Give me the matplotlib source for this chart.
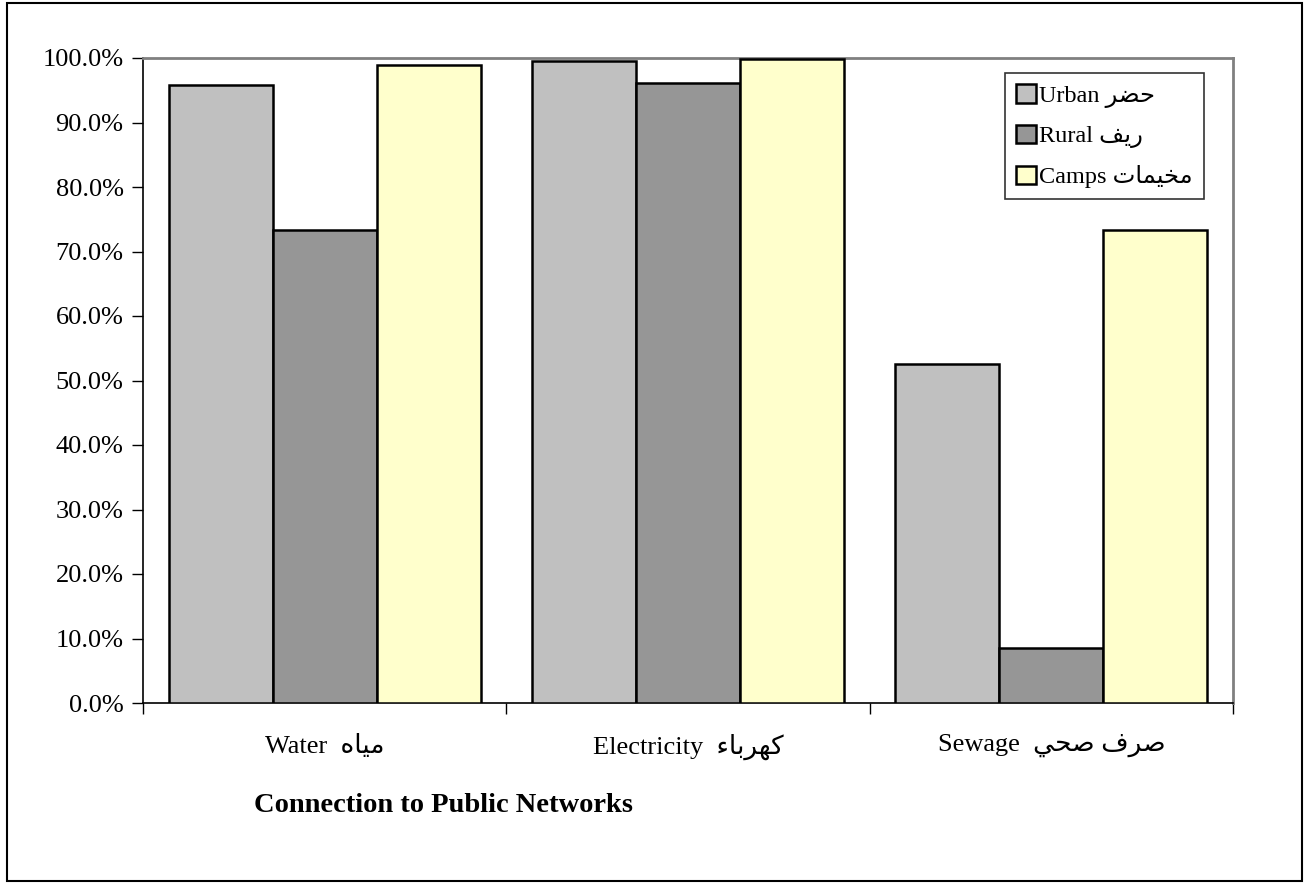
import matplotlib
matplotlib.use("Agg")
import matplotlib.pyplot as plt
from matplotlib.patches import Rectangle
import numpy as np

# Arabic words written in presentation forms, visual (left-to-right) order
AR_URBAN = "\uFEAE\uFEC0\uFEA3"                      # حضر
AR_RURAL = "\uFED2\uFEF3\uFEAD"                      # ريف
AR_CAMPS = "\uFE95\uFE8E\uFEE4\uFEF4\uFEA8\uFEE3"    # مخيمات
AR_WATER = "\uFEE9\uFE8E\uFEF4\uFEE3"                # مياه
AR_ELEC = "\uFE80\uFE8E\uFE91\uFEAE\uFEEC\uFEDB"     # كهرباء
AR_SEWAGE = "\uFEF2\uFEA4\uFEBB \uFED1\uFEAE\uFEBB"  # صرف صحي

categories = ["Water  " + AR_WATER, "Electricity  " + AR_ELEC, "Sewage  " + AR_SEWAGE]
series_names = ["Urban " + AR_URBAN, "Rural " + AR_RURAL, "Camps " + AR_CAMPS]
urban = [95.8, 99.5, 52.6]
rural = [73.3, 96.2, 8.5]
camps = [98.9, 99.8, 73.3]
yticks = [0, 10, 20, 30, 40, 50, 60, 70, 80, 90, 100]
title = "Connection to Public Networks"

colors = ["#C0C0C0", "#969696", "#FFFFCC"]
FAM = ["Liberation Serif", "DejaVu Sans"]
plt.rcParams["font.family"] = FAM

fig = plt.figure(figsize=(13.05, 8.84), dpi=100)
ax = fig.add_axes([143 / 1305, 1 - 703 / 884, (1233 - 143) / 1305, (703 - 58) / 884])

x = np.arange(len(categories))
w = 0.286
for i, (vals, c, name) in enumerate(zip([urban, rural, camps], colors, series_names)):
    ax.bar(x + (i - 1) * w, vals, width=w, color=c, edgecolor="black", linewidth=1.8,
           label=name, zorder=3)

ax.set_xlim(-0.5, len(categories) - 0.5)
ax.set_ylim(0, 100)
ax.set_yticks(yticks)
ax.set_yticklabels([f"{v:.1f}%" for v in yticks], fontsize=19)
ax.tick_params(axis="y", direction="out", length=8, width=1, pad=6)

ax.set_xticks(x)
ax.set_xticklabels(categories, fontsize=19)
ax.tick_params(axis="x", which="major", length=0, pad=22)
ax.set_xticks(np.arange(-0.5, len(categories), 1.0), minor=True)
ax.tick_params(axis="x", which="minor", direction="out", length=8, width=1)

for s in ["left", "bottom"]:
    ax.spines[s].set_color("black")
    ax.spines[s].set_linewidth(1.2)
for s in ["top", "right"]:
    ax.spines[s].set_color("#808080")
    ax.spines[s].set_linewidth(2)

leg = ax.legend(loc="upper right", bbox_to_anchor=((1204 - 143) / 1090, (703 - 73) / 645),
                fontsize=17.5, frameon=True, fancybox=False, edgecolor="black",
                handlelength=0.8, handleheight=0.8, handletextpad=0.15,
                borderaxespad=0, borderpad=0.45, labelspacing=0.7)
leg.get_frame().set_linewidth(1.2)

fig.text(443 / 1305, 1 - 805 / 884, title, ha="center", va="center",
         fontsize=20.5, fontweight="bold")

fig.patches.append(Rectangle((7 / 1305, 3 / 884), (1302 - 7) / 1305, (881 - 3) / 884,
                             transform=fig.transFigure, fill=False, edgecolor="black",
                             linewidth=1.5))

fig.savefig("out.png", dpi=100)
